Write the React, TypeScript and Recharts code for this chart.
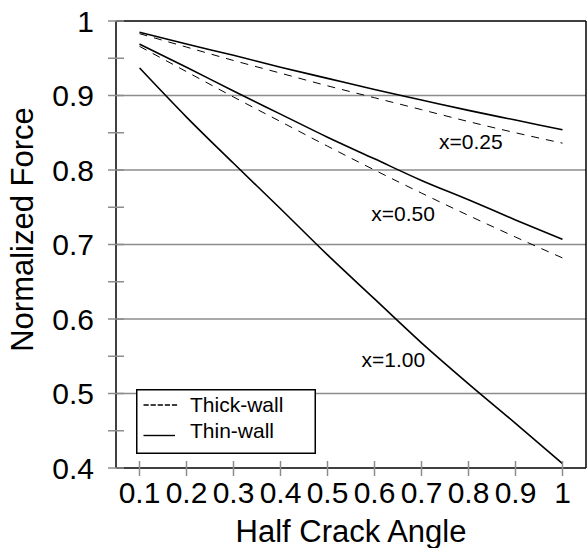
import { LineChart, Line, XAxis, YAxis, ReferenceLine, ReferenceDot, Label } from "recharts";

const angles = [0.1, 0.2, 0.3, 0.4, 0.5, 0.6, 0.7, 0.8, 0.9, 1.0];
const thin025 = [0.985, 0.969, 0.954, 0.938, 0.923, 0.908, 0.894, 0.88, 0.867, 0.854];
const thick025 = [0.983, 0.965, 0.947, 0.93, 0.913, 0.897, 0.881, 0.865, 0.85, 0.836];
const thin050 = [0.969, 0.938, 0.906, 0.875, 0.844, 0.815, 0.786, 0.76, 0.733, 0.707];
const thick050 = [0.966, 0.932, 0.898, 0.865, 0.832, 0.8, 0.769, 0.739, 0.71, 0.682];
const thin100 = [0.937, 0.871, 0.809, 0.748, 0.686, 0.627, 0.568, 0.513, 0.46, 0.406];

const xTicks = [0.1, 0.2, 0.3, 0.4, 0.5, 0.6, 0.7, 0.8, 0.9, 1];
const yTicks = [0.4, 0.45, 0.5, 0.55, 0.6, 0.65, 0.7, 0.75, 0.8, 0.85, 0.9, 0.95, 1];
const yLabels = ["0.4", "", "0.5", "", "0.6", "", "0.7", "", "0.8", "", "0.9", "", "1"];
const gridValues = [0.5, 0.6, 0.7, 0.8, 0.9];

const annotations = [
  { x: 0.805, y: 0.838, text: "x=0.25" },
  { x: 0.661, y: 0.742, text: "x=0.50" },
  { x: 0.64, y: 0.545, text: "x=1.00" },
];

const legendItems = [
  { label: "Thick-wall", dash: "5.2 1.9" },
  { label: "Thin-wall", dash: undefined },
];

const data = angles.map((a, i) => ({
  x: a,
  thin025: thin025[i],
  thick025: thick025[i],
  thin050: thin050[i],
  thick050: thick050[i],
  thin100: thin100[i],
}));

const FONT = "'Liberation Sans', Arial, sans-serif";
const GRID = "#8c8c8c";

function XTick(props: any) {
  const { x, y, payload } = props;
  const axisY = y - 14;
  const v = payload.value;
  return (
    <g>
      <line x1={x} x2={x} y1={axisY - 7} y2={axisY} stroke={GRID} strokeWidth={1.5} />
      <text x={x} y={y} dy="0.71em" textAnchor="middle" fontFamily={FONT} fontSize={30} fill="#000">
        {v === 1 ? "1" : v.toFixed(1)}
      </text>
    </g>
  );
}

function YTick(props: any) {
  const { x, y, index } = props;
  const axisX = x + 8;
  return (
    <g>
      <line x1={axisX} x2={axisX + 8} y1={y} y2={y} stroke={GRID} strokeWidth={1.5} />
      <text x={x - 14} y={y} dy="0.355em" textAnchor="end" fontFamily={FONT} fontSize={30} fill="#000">
        {yLabels[index]}
      </text>
    </g>
  );
}

function YTitle(props: any) {
  const { viewBox } = props;
  const cy = viewBox.y + viewBox.height / 2 - 15;
  return (
    <text
      x={22}
      y={cy}
      transform={`rotate(-90, 22, ${cy})`}
      textAnchor="middle"
      dominantBaseline="central"
      fontFamily={FONT}
      fontSize={31}
      fill="#000"
    >
      Normalized Force
    </text>
  );
}

export default function App() {
  return (
    <div style={{ position: "absolute", left: 0, top: 0, width: 587, height: 548, background: "#fff" }}>
      <LineChart width={587} height={548} data={data} margin={{ top: 21, right: 1, bottom: 0, left: 0 }}>
        {gridValues.map((g) => (
          <ReferenceLine key={g} y={g} stroke={GRID} strokeWidth={1.5} />
        ))}
        <ReferenceLine y={1} stroke="#000" strokeWidth={1.5} />
        <ReferenceLine x={1.05} stroke="#000" strokeWidth={1.5} />
        <XAxis
          dataKey="x"
          type="number"
          domain={[0.05, 1.05]}
          ticks={xTicks}
          interval={0}
          height={80}
          tickSize={8}
          tickMargin={6}
          tickLine={{ stroke: GRID, strokeWidth: 1.5 }}
          axisLine={{ stroke: "#000", strokeWidth: 1.5 }}
          tick={<XTick />}
          allowDataOverflow
        >
          <Label
            value="Half Crack Angle"
            position="insideBottom"
            offset={6}
            style={{ fontFamily: FONT, fontSize: 31, fill: "#000" }}
          />
        </XAxis>
        <YAxis
          type="number"
          domain={[0.4, 1]}
          ticks={yTicks}
          interval={0}
          width={116}
          tickSize={8}
          tickMargin={0}
          tickLine={{ stroke: GRID, strokeWidth: 1.5 }}
          axisLine={{ stroke: "#000", strokeWidth: 1.5 }}
          tick={<YTick />}
          allowDataOverflow
        >
          <Label content={<YTitle />} />
        </YAxis>
        <Line type="monotone" dataKey="thick025" stroke="#000" strokeWidth={1} strokeDasharray="8 7" dot={false} isAnimationActive={false} />
        <Line type="monotone" dataKey="thick050" stroke="#000" strokeWidth={1} strokeDasharray="8 7" dot={false} isAnimationActive={false} />
        <Line type="monotone" dataKey="thin025" stroke="#000" strokeWidth={1.6} dot={false} isAnimationActive={false} />
        <Line type="monotone" dataKey="thin050" stroke="#000" strokeWidth={1.6} dot={false} isAnimationActive={false} />
        <Line type="monotone" dataKey="thin100" stroke="#000" strokeWidth={1.6} dot={false} isAnimationActive={false} />
        {annotations.map((a) => (
          <ReferenceDot
            key={a.text}
            x={a.x}
            y={a.y}
            r={0}
            stroke="none"
            fill="none"
            label={{ value: a.text, position: "center", fontFamily: FONT, fontSize: 21, fill: "#000" }}
          />
        ))}
      </LineChart>
      <svg width={180} height={65} style={{ position: "absolute", left: 136, top: 389 }}>
        <rect x={0.75} y={0.75} width={178.5} height={63.5} fill="#fff" stroke="#000" strokeWidth={1.5} />
        {legendItems.map((item, i) => (
          <g key={item.label}>
            <line
              x1={7.5}
              x2={i === 0 ? 42.5 : 39}
              y1={i === 0 ? 16 : 46.5}
              y2={i === 0 ? 16 : 46.5}
              stroke="#000"
              strokeWidth={1.4}
              strokeDasharray={item.dash}
            />
            <text x={54} y={i === 0 ? 15 : 41.5} dominantBaseline="central" fontFamily={FONT} fontSize={21} fill="#000">
              {item.label}
            </text>
          </g>
        ))}
      </svg>
    </div>
  );
}
